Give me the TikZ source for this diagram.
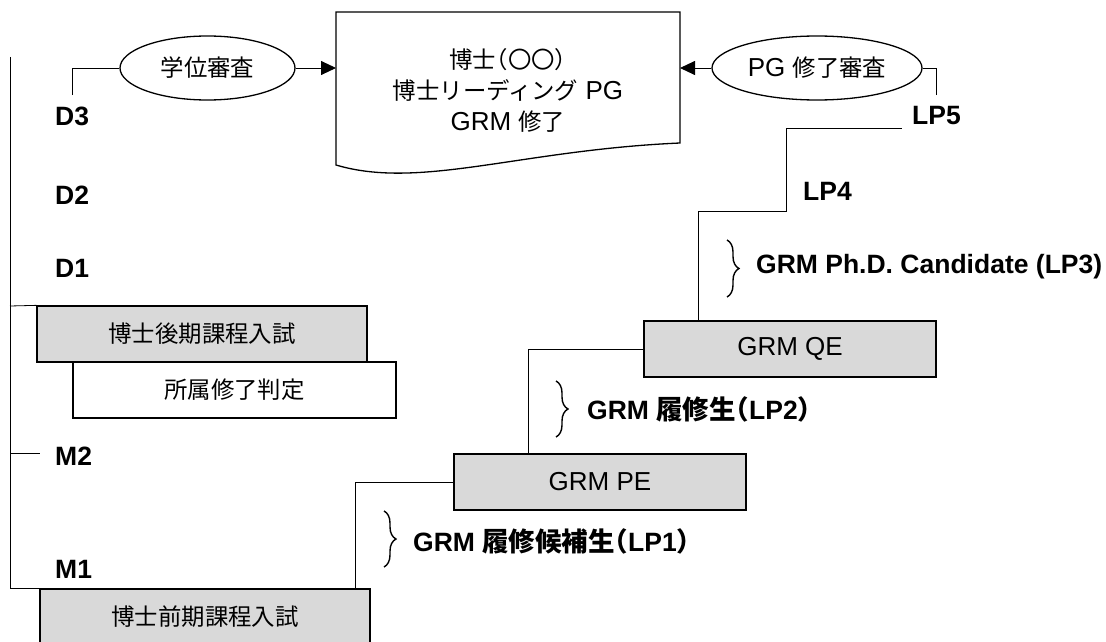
\documentclass[tikz,border=0pt]{standalone}
\usepackage{fontspec}
\setmainfont{Liberation Sans}
\newfontfamily\jp{Noto Sans CJK JP}[Scale=0.9, RawFeature=+halt]
\newfontfamily\jpl{Noto Sans CJK JP}[RawFeature=+halt]
\usetikzlibrary{positioning, arrows.meta, shapes.geometric, decorations.pathreplacing}
\definecolor{boxgray}{RGB}{217,217,217}

\begin{document}
\begin{tikzpicture}[x=1pt, y=-1pt,
    every node/.style={font=\fontsize{26}{31}\selectfont, inner sep=0pt},
    conn/.style={line width=0.8pt},
    arr/.style={line width=0.9pt, -{Triangle[length=15pt, width=14pt]}},
    stagebox/.style={draw, line width=1.3pt, minimum height=56pt},
    exam/.style={stagebox, fill=boxgray},
    review/.style={ellipse, draw, line width=1.3pt, minimum height=64pt},
    yearlab/.style={font=\fontsize{26.5}{30}\selectfont\bfseries, anchor=west},
    brc/.style={line width=1.4pt, decorate, decoration={brace, amplitude=12pt}}]

    \clip (0,0) rectangle (1106,642);

    %Degree document
    \draw[line width=1.3pt] (680,143) .. controls (520,150) and (420,190) .. (336,165)
        -- (336,12) -- (680,12) -- cycle;
    \node[align=center] (doc) at (508,90) {{\jp 博士（〇〇）}\\{\jp 博士リーディング} PG\\GRM {\jp 修了}};
    \coordinate (docW) at (336,68);
    \coordinate (docE) at (680,68);

    %Reviews
    \node[review, minimum width=175pt] (gakui) at (207.5,68) {\jp 学位審査};
    \node[review, minimum width=210pt] (pgrev) at (817,68) {PG {\jp 修了審査}};

    %Year labels
    \foreach \y/\lab in {116/D3, 195/D2, 268/D1, 456/M2, 569/M1}
        \node[yearlab] (\lab) at (55,\y) {\lab};
    \node[yearlab] (LP4) at (803,191) {LP4};
    \node[yearlab] (LP5) at (912,116) {LP5};

    %Entrance exams and judgement
    \node[exam, minimum width=330pt] (dexam) at (202,334) {\jp 博士後期課程入試};
    \node[stagebox, minimum width=323pt] (judge) at (234.5,390) {\jp 所属修了判定};
    \node[exam, minimum width=330pt] (mexam) at (205,617) {\jp 博士前期課程入試};

    %GRM exams
    \node[exam, minimum width=292pt] (pe) at (600,482) {GRM PE};
    \node[exam, minimum width=292pt] (qe) at (790,349) {GRM QE};

    %Time axis
    \coordinate (axtop) at (10,57);
    \coordinate (d3end) at (72,95);
    \coordinate (lp5top) at (936,95);
    \coordinate (lp5end) at (902,128);
    \draw[conn] (axtop) -- (10,588) -| ([xshift=-98pt]pe.west) -- (pe.west);
    \draw[conn] (10,306) -- (dexam.north west);
    \draw[conn] (10,453) -- +(30,0);

    %Steps
    \draw[conn] ([xshift=-72pt]pe.north) |- (qe.west);
    \draw[conn] ([xshift=-92pt]qe.north) |- (786,211) |- (lp5end);

    %Arrows to the degree
    \draw[conn] (d3end) |- (gakui.west);
    \draw[arr] (gakui.east) -- (docW);
    \draw[conn] (lp5top) |- (pgrev.east);
    \draw[arr] (pgrev.west) -- (docE);

    %Stage braces
    \draw[brc] (384,511) -- (384,567);
    \node[yearlab] (lp1) at (413,541) {GRM {\jpl 履修候補生（}LP1{\jpl ）}};
    \draw[brc] (556,381) -- (556,437);
    \node[yearlab] (lp2) at (587,409) {GRM {\jpl 履修生（}LP2{\jpl ）}};
    \draw[brc] (727,240) -- (727,297);
    \node[yearlab] (lp3) at (756,267) {GRM Ph.D. Candidate (LP3)};

\end{tikzpicture}
\end{document}
